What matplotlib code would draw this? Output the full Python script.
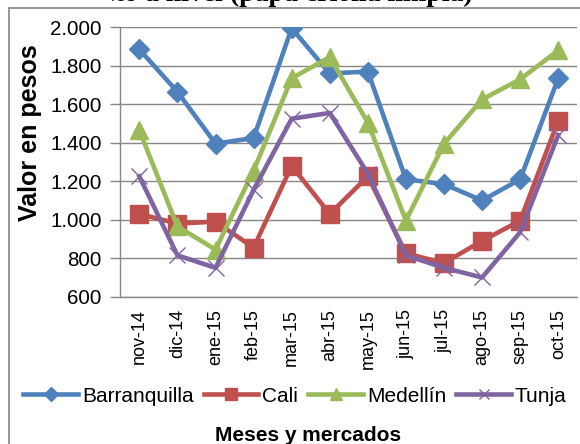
import matplotlib
matplotlib.use("Agg")
import matplotlib.pyplot as plt
from matplotlib.lines import Line2D
from matplotlib.ticker import FuncFormatter, MultipleLocator
from matplotlib.transforms import Bbox

months = ["nov-14", "dic-14", "ene-15", "feb-15", "mar-15", "abr-15",
          "may-15", "jun-15", "jul-15", "ago-15", "sep-15", "oct-15"]
barranquilla = [1885, 1665, 1395, 1425, 1995, 1760, 1770, 1210, 1185, 1100, 1210, 1735]
cali = [1030, 980, 990, 855, 1280, 1030, 1225, 825, 775, 890, 995, 1515]
medellin = [1465, 965, 845, 1255, 1735, 1845, 1505, 995, 1395, 1625, 1730, 1880]
tunja = [1225, 815, 750, 1155, 1525, 1555, 1240, 815, 750, 700, 935, 1440]

series = [
    ("Barranquilla", barranquilla, "#4F81BD", "D", 10, 7),
    ("Cali", cali, "#C0504D", "s", 13, 8),
    ("Medellín", medellin, "#9BBB59", "^", 13, 8),
    ("Tunja", tunja, "#8064A2", "x", 12, 7),
]

plt.rcParams["font.family"] = ["Liberation Sans", "DejaVu Sans"]

fig = plt.figure(figsize=(5.8, 4.44), dpi=100)
ax = fig.add_axes([120.3 / 580, 1 - 296.7 / 444, (577.3 - 120.3) / 580, (296.7 - 27.3) / 444])

x = list(range(len(months)))
handles = []
for name, vals, color, marker, ms, lms in series:
    if marker == "x":
        ax.plot(x, vals, color=color, lw=3.3, marker=marker, ms=ms, mew=1.0,
                mec=color, zorder=3)
        handles.append(Line2D([], [], color=color, lw=3.3, marker=marker, ms=lms, mew=1.0))
    else:
        ax.plot(x, vals, color=color, lw=3.3, marker=marker, ms=ms, mec=color,
                mfc=color, zorder=3)
        handles.append(Line2D([], [], color=color, lw=3.3, marker=marker, ms=lms,
                              mec=color, mfc=color))

ax.set_xlim(-0.5, len(months) - 0.5)
ax.set_ylim(600, 2000)
ax.yaxis.set_major_locator(MultipleLocator(200))
ax.yaxis.set_major_formatter(FuncFormatter(lambda v, p: f"{v:,.0f}".replace(",", ".")))
ax.set_xticks(x)
ax.set_xticklabels(months, rotation=90, fontsize=13)
ax.tick_params(axis="x", length=0, pad=9)
ax.tick_params(axis="y", labelsize=14.8, length=7, width=1, color="#868686", pad=6.5)
ax.grid(axis="y", color="#868686", lw=1.0)
ax.set_axisbelow(True)
for s in ["top", "right"]:
    ax.spines[s].set_visible(False)
for s in ["left", "bottom"]:
    ax.spines[s].set_color("#868686")
    ax.spines[s].set_linewidth(1.0)

fig.text(30.5 / 580, 1 - 133 / 444, "Valor en pesos", rotation=90, fontsize=18,
         fontweight="bold", ha="center", va="center")
fig.text(308 / 580, 3 / 444, "Meses y mercados", fontsize=15, fontweight="bold",
         ha="center", va="baseline")

leg = fig.legend(handles, [s[0] for s in series], loc="center",
                 bbox_to_anchor=(295 / 580, 1 - 396 / 444), ncol=4, frameon=False,
                 fontsize=15, handlelength=2.6, handletextpad=0.2, columnspacing=0.5,
                 borderpad=0, borderaxespad=0)

title = fig.text(473 / 580, 1 - 1 / 444,
                 "Precio promedio del producto a nivel (papa criolla limpia)",
                 fontsize=20, fontweight="bold", ha="right", va="baseline",
                 family=["Liberation Serif", "DejaVu Serif"])
title.set_clip_box(Bbox([[112, 0], [580, 444]]))
title.set_clip_on(True)

border_c = "#868686"
fig.add_artist(Line2D([9 / 580, 9 / 580], [0, 1 - 8 / 444], transform=fig.transFigure,
                      color=border_c, lw=1.2))
fig.add_artist(Line2D([9 / 580, 1], [1 - 8 / 444, 1 - 8 / 444], transform=fig.transFigure,
                      color=border_c, lw=1.2))

fig.savefig("out.png", dpi=100)
